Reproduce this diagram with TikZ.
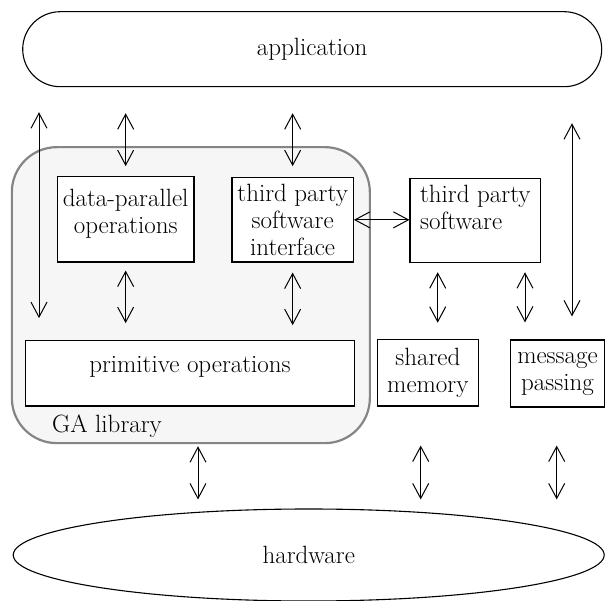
\documentclass[tikz,border=0pt]{standalone}
\usepackage{fontspec}
\usetikzlibrary{shapes.geometric, arrows.meta}
\definecolor{libfill}{HTML}{F6F6F6}
\definecolor{libstr}{HTML}{858585}
\tikzset{
  every node/.style={font=\fontsize{25}{27}\selectfont},
  appbox/.style  ={rectangle, rounded corners=37.5pt, draw, line width=1.1pt,
                   minimum width=579pt, minimum height=75pt},
  libbox/.style  ={rectangle, rounded corners=45pt, draw=libstr, fill=libfill,
                   line width=2.2pt, minimum width=358pt, minimum height=296pt},
  opbox/.style   ={rectangle, draw, fill=white, line width=1.1pt, inner sep=0pt, align=center},
  hwbox/.style   ={ellipse, draw, line width=1.1pt, inner sep=0pt,
                   minimum width=591pt, minimum height=92pt},
  liblabel/.style={inner sep=0pt, anchor=base west},
  link/.style    ={{Straight Barb[length=15pt, width=16pt]}-{Straight Barb[length=15pt, width=16pt]},
                   line width=1pt},
}
\begin{document}
\begin{tikzpicture}[x=1pt, y=1pt]
    \useasboundingbox (0,0) rectangle (605,600);
    \node[appbox] (app) at (312.2,550.8) {application};
    \node[libbox] (lib) at (190.85,304.85) {};
    \node[liblabel] (libname) at (52,167.3) {GA library};
    \node[opbox, minimum width=136.7pt, minimum height=85.3pt, text depth=15.5pt] (dp) at (125.65,380.65) {data-parallel\\operations};
    \node[opbox, minimum width=121.3pt, minimum height=84.3pt] (tpi) at (292.65,380.15) {third party\\software\\interface};
    \node[opbox, align=left, minimum width=130.7pt, minimum height=84.4pt, text depth=27pt] (tps) at (475.35,379.5) {third party\\software};
    \node[opbox, minimum width=328.6pt, minimum height=65.3pt, text depth=18pt] (prim) at (190,226.65) {primitive operations};
    \node[opbox, minimum width=101pt, minimum height=66.7pt] (shm) at (427.8,227.35) {shared\\memory};
    \node[opbox, minimum width=94pt, minimum height=67pt] (msg) at (557.5,226.5) {message\\passing};
    \node[hwbox] (hw) at (308.7,45) {hardware};

    \coordinate (c1) at (39,0);
    \coordinate (c2) at (572,0);
    \coordinate (c3) at (437.7,0);
    \coordinate (c4) at (525,0);
    \coordinate (c5) at (198,0);
    \coordinate (c6) at (420.7,0);
    \coordinate (c7) at (556.7,0);

    \draw[link, shorten <=25pt, shorten >=22pt] (app.south -| c1) -- (prim.north -| c1);
    \draw[link, shorten <=26pt, shorten >=10pt] (app.south -| dp) -- (dp.north);
    \draw[link, shorten <=26pt, shorten >=11pt] (app.south -| tpi) -- (tpi.north);
    \draw[link, shorten <=36pt, shorten >=23pt] (app.south -| c2) -- (msg.north -| c2);
    \draw[link, shorten <=8pt, shorten >=17pt] (dp.south) -- (prim.north -| dp);
    \draw[link, shorten <=10pt, shorten >=15pt] (tpi.south) -- (prim.north -| tpi);
    \draw[link] (tpi.east) -- (tps.west |- tpi.east);
    \draw[link, shorten <=9pt, shorten >=16pt] (tps.south -| c3) -- (shm.north -| c3);
    \draw[link, shorten <=9pt, shorten >=17pt] (tps.south -| c4) -- (msg.north -| c4);
    \draw[link, shorten <=2pt, shorten >=9pt] (lib.south -| c5) -- (hw.north -| c5);
    \draw[link, shorten <=39pt, shorten >=9pt] (shm.south -| c6) -- (hw.north -| c6);
    \draw[link, shorten <=38pt, shorten >=9pt] (msg.south -| c7) -- (hw.north -| c7);
  \end{tikzpicture}
\end{document}
